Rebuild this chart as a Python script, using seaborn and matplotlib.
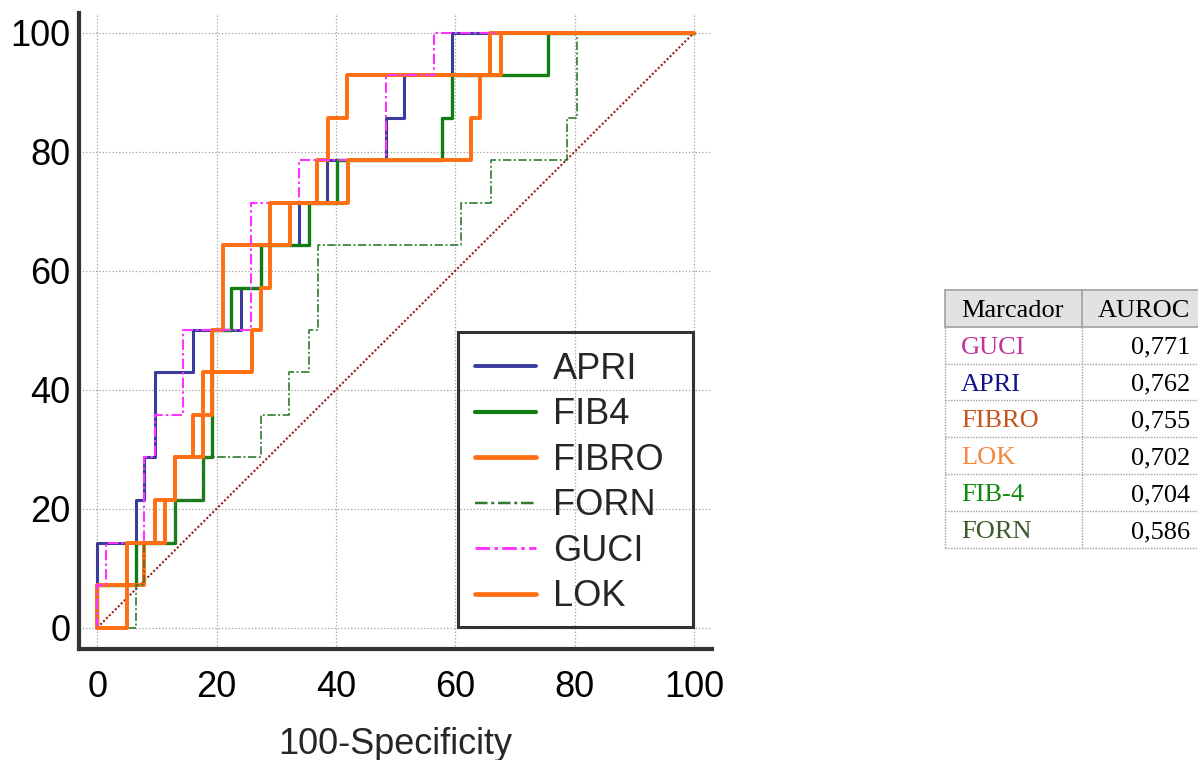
import numpy as np
import pandas as pd
import matplotlib
matplotlib.use("Agg")
import matplotlib.pyplot as plt
import seaborn as sns
from matplotlib.patches import Rectangle
from matplotlib.lines import Line2D
from matplotlib.ticker import MultipleLocator

# ---------------- data ----------------
# each curve: at x (100-Specificity) the sensitivity steps up to y
APRI_x = [0, 6.5, 7.9, 9.6, 16.0, 24.0, 27.4, 33.8, 38.5, 48.4, 51.4, 59.5]
APRI_y = [14.3, 21.4, 28.6, 42.9, 50.0, 57.1, 64.3, 71.4, 78.6, 85.7, 92.9, 100]
FIB4_x = [0, 6.5, 13.0, 17.65, 19.3, 22.4, 27.4, 35.5, 40.2, 57.7, 59.5, 75.5]
FIB4_y = [7.1, 14.3, 21.4, 28.6, 50.0, 57.1, 64.3, 71.4, 78.6, 85.7, 92.9, 100]
FIBRO_x = [0, 7.9, 9.6, 13.0, 16.0, 19.3, 21.0, 32.3, 36.85, 38.6, 41.9, 65.8]
FIBRO_y = [7.1, 14.3, 21.4, 28.6, 35.7, 50.0, 64.3, 71.4, 78.6, 85.7, 92.9, 100]
FORN_x = [6.5, 7.9, 13.0, 17.65, 27.4, 32.2, 35.5, 37.0, 61.0, 65.9, 78.7, 80.3]
FORN_y = [7.1, 14.3, 21.4, 28.6, 35.7, 42.9, 50.0, 64.3, 71.4, 78.6, 85.7, 100]
GUCI_x = [0, 1.5, 7.9, 9.6, 14.3, 25.8, 33.8, 48.4, 56.4]
GUCI_y = [7.1, 14.3, 28.6, 35.7, 50.0, 71.4, 78.6, 92.9, 100]
LOK_x = [4.9, 11.3, 13.0, 17.65, 25.9, 27.5, 28.9, 42.0, 62.7, 64.2, 67.6]
LOK_y = [14.3, 21.4, 28.6, 42.9, 50.0, 57.1, 71.4, 78.6, 85.7, 92.9, 100]

markers = ["APRI", "FIB4", "FIBRO", "FORN", "GUCI", "LOK"]
steps = {"APRI": (APRI_x, APRI_y), "FIB4": (FIB4_x, FIB4_y),
         "FIBRO": (FIBRO_x, FIBRO_y), "FORN": (FORN_x, FORN_y),
         "GUCI": (GUCI_x, GUCI_y), "LOK": (LOK_x, LOK_y)}

xticks = [0, 20, 40, 60, 80, 100]
yticks = [0, 20, 40, 60, 80, 100]
xlabel = "100-Specificity"

table_markers = ["GUCI", "APRI", "FIBRO", "LOK", "FIB-4", "FORN"]
table_auroc = ["0,771", "0,762", "0,755", "0,702", "0,704", "0,586"]
table_header = ["Marcador", "AUROC"]

# ---------------- styles ----------------
styles = {
    "APRI":  dict(color="#3b3b9d", lw=2.2, ls="-"),
    "FIB4":  dict(color="#127d12", lw=2.4, ls="-"),
    "FIBRO": dict(color="#ff6e10", lw=2.8, ls="-"),
    "FORN":  dict(color="#2f7a2f", lw=1.2, ls=(0, (5, 1.5, 1.2, 1.5))),
    "GUCI":  dict(color="#ff33ff", lw=1.5, ls=(0, (5, 1.5, 1.2, 1.5))),
    "LOK":   dict(color="#ff6e10", lw=2.8, ls="-"),
}
table_colors = ["#c5309f", "#12128a", "#c8561c", "#f4893c", "#10890f", "#3c5a2c"]


def roc_path(xs, ys):
    px, py = [0.0], [0.0]
    for x, y in zip(xs, ys):
        px += [x, x]
        py += [py[-1], y]
    px.append(100.0)
    py.append(100.0)
    return px, py


rows = []
for m in markers:
    px, py = roc_path(*steps[m])
    for i, (a, b) in enumerate(zip(px, py)):
        rows.append(dict(marker=m, order=i, x=a, y=b))
df = pd.DataFrame(rows)
diag = pd.DataFrame(dict(x=[0, 100], y=[0, 100]))

# ---------------- figure ----------------
sns.set_style("white")
plt.rcParams["font.family"] = ["Liberation Sans", "DejaVu Sans"]

W, H = 1198, 760
fig = plt.figure(figsize=(W / 100, H / 100), dpi=100)


def fx(p):
    return p / W


def fy(p):
    return 1 - p / H


ax = fig.add_axes([fx(79), fy(649), (712 - 79) / W, (649 - 13) / H])

sns.lineplot(data=diag, x="x", y="y", ax=ax, color="#9a2020", lw=1.5,
             linestyle=(0, (1, 1)), sort=False, estimator=None)
for m in markers:
    st = styles[m]
    sns.lineplot(data=df[df.marker == m], x="x", y="y", ax=ax, sort=False,
                 estimator=None, color=st["color"], lw=st["lw"],
                 linestyle=st["ls"], legend=False)

ax.set_xlim(-3.07, 103.0)
ax.set_ylim(-3.6, 103.3)
ax.set_xticks(xticks)
ax.set_yticks(yticks)
ax.xaxis.set_minor_locator(MultipleLocator(5))
ax.yaxis.set_minor_locator(MultipleLocator(5))
ax.grid(True, which="major", ls=":", color="#a0a0a0", lw=0.9)
ax.set_axisbelow(True)
for s in ["top", "right"]:
    ax.spines[s].set_visible(False)
for s in ["left", "bottom"]:
    ax.spines[s].set_linewidth(3)
    ax.spines[s].set_color("#333333")
ax.tick_params(which="major", direction="in", length=12, width=2.2,
               color="#333333", labelsize=26, labelcolor="black")
ax.tick_params(which="minor", direction="in", length=7.5, width=2.2,
               color="#333333")
ax.tick_params(axis="x", which="major", pad=15)
ax.tick_params(axis="y", which="major", pad=6)
ax.set_xlabel(xlabel, fontsize=26, labelpad=16)
ax.set_ylabel("")

# legend (frame drawn manually)
handles = [Line2D([], [], color=styles[m]["color"], lw=styles[m]["lw"] + 0.6,
                  linestyle=styles[m]["ls"]) for m in markers]
leg = fig.legend(handles, markers, loc="upper left",
                 bbox_to_anchor=(fx(475), fy(352)), frameon=False,
                 fontsize=26, handlelength=1.7, handletextpad=0.45,
                 labelspacing=0.29, borderpad=0.0, borderaxespad=0.0)
fig.patches.append(Rectangle((fx(458), fy(627)), (693 - 458) / W, (627 - 332) / H,
                             transform=fig.transFigure, fill=False,
                             edgecolor="#333333", lw=2.2, zorder=5))

# ---------------- AUROC table ----------------
tl, tr, cdiv = 945, 1198, 1082
htop, hbot = 290, 326.7
rowh = 36.9
fig.patches.append(Rectangle((fx(tl), fy(hbot)), (tr - tl) / W, (hbot - htop) / H,
                             transform=fig.transFigure, facecolor="#e2e2e2",
                             edgecolor="none"))
lk = dict(transform=fig.transFigure, color="#a0a0a0")
fig.add_artist(Line2D([fx(tl), fx(tr)], [fy(htop), fy(htop)], lw=1.2, **lk))
fig.add_artist(Line2D([fx(tl), fx(tr)], [fy(hbot), fy(hbot)], lw=1.2, **lk))
fig.add_artist(Line2D([fx(tl), fx(tl)], [fy(htop), fy(hbot)], lw=1.2, **lk))
fig.add_artist(Line2D([fx(cdiv), fx(cdiv)], [fy(htop), fy(hbot)], lw=1.2, **lk))
bottom = hbot + rowh * len(table_markers)
fig.add_artist(Line2D([fx(tl), fx(tl)], [fy(hbot), fy(bottom)], lw=1.0, ls=(0, (1, 1)), **lk))
fig.add_artist(Line2D([fx(cdiv), fx(cdiv)], [fy(hbot), fy(bottom)], lw=1.0, ls=(0, (1, 1)), **lk))

serif = ["Liberation Serif", "DejaVu Serif"]
fig.text(fx(961), fy((htop + hbot) / 2), table_header[0], family=serif, fontsize=19,
         ha="left", va="center_baseline", color="black")
fig.text(fx(1190), fy((htop + hbot) / 2), table_header[1], family=serif, fontsize=19,
         ha="right", va="center_baseline", color="black")
for i, (name, val, col) in enumerate(zip(table_markers, table_auroc, table_colors)):
    top = hbot + i * rowh
    bot = top + rowh
    cy = (top + bot) / 2
    fig.text(fx(961), fy(cy), name, family=serif, fontsize=19, ha="left",
             va="center_baseline", color=col)
    fig.text(fx(1190), fy(cy), val, family=serif, fontsize=19, ha="right",
             va="center_baseline", color="black")
    fig.add_artist(Line2D([fx(tl), fx(tr)], [fy(bot), fy(bot)], lw=1.0,
                          ls=(0, (1, 1)), **lk))

fig.savefig("out.png", dpi=100)
